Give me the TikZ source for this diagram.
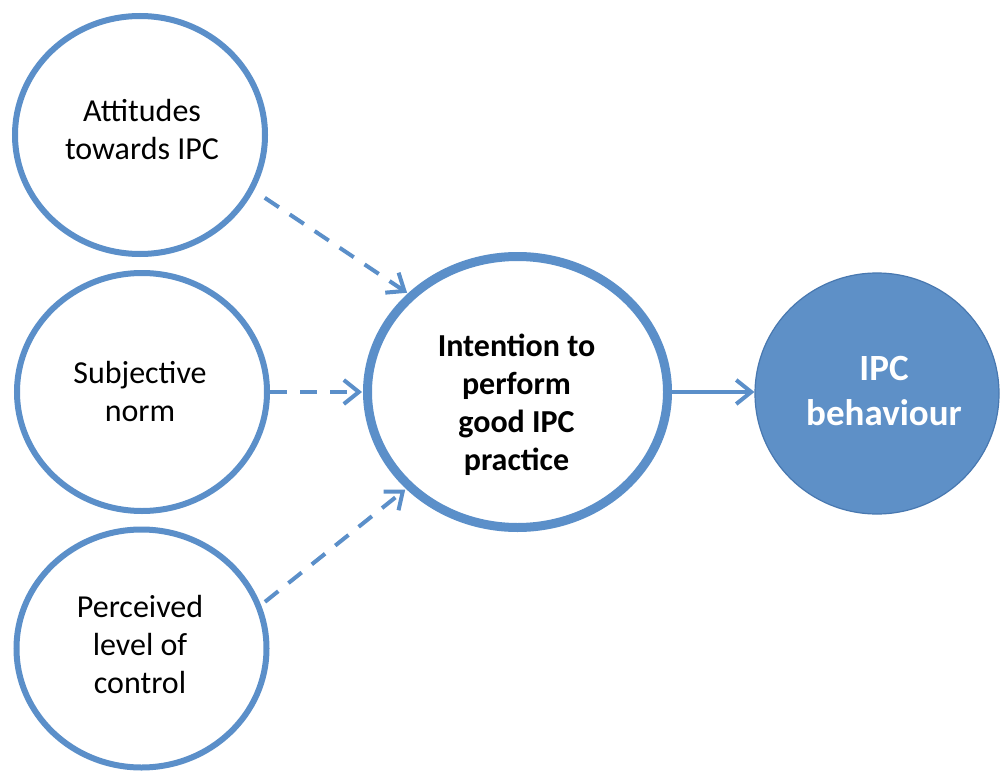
\documentclass[tikz,border=0pt]{standalone}
\usepackage{fontspec}
\setmainfont{Carlito}
\usetikzlibrary{shapes.geometric,arrows.meta}
\definecolor{ipcblue}{RGB}{91,143,201}
\definecolor{ipcfill}{RGB}{94,144,199}
\definecolor{ipcedge}{RGB}{72,120,176}
\begin{document}
\begin{tikzpicture}[x=1pt,y=-1pt,
  ring/.style={ellipse, draw=ipcblue, line width=6pt, fill=white,
    minimum width=250pt, minimum height=238pt, inner sep=0pt},
  bigring/.style={ellipse, draw=ipcblue, line width=9pt, fill=white,
    minimum width=300pt, minimum height=271pt, inner sep=0pt},
  solidcirc/.style={ellipse, draw=ipcedge, line width=1.2pt, fill=ipcfill,
    minimum width=244pt, minimum height=241pt, inner sep=0pt},
  lbl/.style={align=center, inner sep=0pt, text=black,
    font=\fontsize{32}{38}\selectfont},
  boldlbl/.style={align=center, inner sep=0pt, text=black,
    font=\fontsize{32}{38}\selectfont\bfseries},
  whitelbl/.style={align=center, inner sep=0pt, text=white,
    font=\fontsize{37}{45}\selectfont\bfseries},
  dasharrow/.style={draw=ipcblue, line width=4pt, dash pattern=on 17pt off 13pt,
    -{Straight Barb[length=15pt,width=24pt]}},
  solidarrow/.style={draw=ipcblue, line width=4pt,
    -{Straight Barb[length=15pt,width=24pt]}}
]
\fill[white] (0,0) rectangle (1001,773);
\useasboundingbox (0,0) rectangle (1001,773);

\node[ring] (c1) at (140,135) {};
\node[ring] (c2) at (142,392) {};
\node[ring] (c3) at (141.5,648.5) {};
\node[bigring] (ci) at (517.5,392) {};
\node[solidcirc] (cr) at (877,393.5) {};

\node[lbl] (t1) at (142,130) {Attitudes\\towards IPC};
\node[lbl] (t2) at (140,391) {Subjective\\norm};
\node[lbl] (t3) at (140,645) {Perceived\\level of\\control};
\node[boldlbl] (ti) at (516.5,404.6) {Intention to\\perform\\good IPC\\practice};
\node[whitelbl] (tr) at (884,390.6) {IPC\\behaviour};

\draw[dasharrow, shorten <=13pt, shorten >=1pt] (c1.-26) -- (ci.138);
\draw[dasharrow, shorten >=1pt] (c2.east) -- (ci.west);
\draw[dasharrow, shorten <=5pt, shorten >=1pt] (c3.20) -- (ci.-139);
\draw[solidarrow] (ci.east) -- (ci.east -| cr.west);
\end{tikzpicture}
\end{document}
